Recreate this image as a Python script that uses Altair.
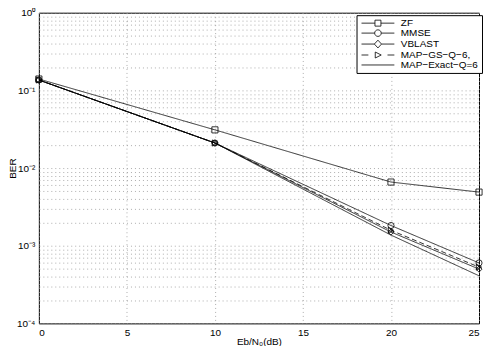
import altair as alt
import pandas as pd

# ---- data ----
snr = [0, 10, 20, 25]
series_names = ["ZF", "MMSE", "VBLAST", "MAP\u2212GS\u2212Q\u22126,", "MAP\u2212Exact\u2212Q=6"]
ber_zf = [0.14, 0.031, 0.0066, 0.0049]
ber_mmse = [0.136, 0.021, 0.00182, 0.0006]
ber_vblast = [0.136, 0.021, 0.0015, 0.0005]
ber_mapgs = [0.136, 0.021, 0.00158, 0.00053]
ber_exact = [0.136, 0.021, 0.00137, 0.00041]

x_ticks = [0, 5, 10, 15, 20, 25]
y_ticks = [m * 10.0 ** k for k in range(-4, 0) for m in range(1, 10)] + [1.0]

all_vals = [ber_zf, ber_mmse, ber_vblast, ber_mapgs, ber_exact]
rows = []
for name, vals in zip(series_names, all_vals):
    for xv, yv in zip(snr, vals):
        rows.append({"snr": xv, "ber": yv, "series": name})
df = pd.DataFrame(rows)
legend_df = pd.DataFrame({"series": series_names})

FONT = "Liberation Sans"

x_enc = alt.X("snr:Q", scale=alt.Scale(domain=[0, 25], nice=False),
              axis=alt.Axis(values=x_ticks, title="Eb/N\u2080(dB)", format="d",
                            titleY=18, titleBaseline="middle"))
y_enc = alt.Y("ber:Q", scale=alt.Scale(type="log", domain=[1e-4, 1], nice=False),
              axis=alt.Axis(values=y_ticks, title="BER",
                            labelExpr="abs(datum.value-1)<1e-9 ? '10\u2070' : abs(datum.value-0.1)<1e-12 ? '10\u207b\u00b9' : abs(datum.value-0.01)<1e-12 ? '10\u207b\u00b2' : abs(datum.value-0.001)<1e-12 ? '10\u207b\u00b3' : abs(datum.value-0.0001)<1e-12 ? '10\u207b\u2074' : ''"))

dash_range = [[1, 0], [1, 0], [1, 0], [5, 3], [1, 0]]
lines = alt.Chart(df).mark_line(color="black", strokeWidth=0.8).encode(
    x=x_enc, y=y_enc,
    detail="series:N",
    strokeDash=alt.StrokeDash("series:N", scale=alt.Scale(domain=series_names, range=dash_range), legend=None),
)

marker_names = series_names[:4]
points = alt.Chart(df).transform_filter(
    alt.FieldOneOfPredicate(field="series", oneOf=marker_names)
).mark_point(color="black", filled=False, strokeWidth=0.8, size=38, opacity=1).encode(
    x="snr:Q", y="ber:Q",
    shape=alt.Shape("series:N", scale=alt.Scale(domain=marker_names,
                    range=["square", "circle", "diamond", "triangle-right"]), legend=None),
)

legend_paths = [
    "M-1,0H3.5M5.5,0H10M3.5,-1H5.5V1H3.5Z",
    "M-1,0H3.4M5.6,0H10M5.6,0A1.1,1.1,0,1,1,3.4,0A1.1,1.1,0,1,1,5.6,0",
    "M-1,0H3.3M5.7,0H10M4.5,-1.3L5.7,0L4.5,1.3L3.3,0Z",
    "M-1,0H1.3M3.6,-1L5.6,0L3.6,1ZM7.7,0H10",
    "M-1,0H10",
]
legend_layer = alt.Chart(legend_df).transform_filter("false").mark_point(
    color="black", filled=False, strokeWidth=0.8
).encode(
    shape=alt.Shape("series:N", scale=alt.Scale(domain=series_names, range=legend_paths),
                    legend=alt.Legend(title=None, orient="none", legendX=319, legendY=2.5,
                                      strokeColor="black", fillColor="white", padding=3,
                                      symbolSize=36, symbolStrokeColor="black",
                                      symbolStrokeWidth=0.8, symbolFillColor="transparent",
                                      symbolOpacity=1, labelOffset=31.5, rowPadding=0,
                                      labelFont=FONT, labelFontSize=10, labelColor="black",
                                      cornerRadius=0)),
)

chart = alt.layer(lines, points, legend_layer).resolve_scale(
    shape="independent"
).properties(
    width=442, height=312,
    autosize=alt.AutoSizeParams(type="none"),
    padding={"left": 31, "top": 4, "right": 4, "bottom": 22},
    background="white",
).configure_view(
    stroke="black", strokeWidth=1
).configure_axis(
    grid=True, gridColor="#999999", gridDash=[1, 3], gridWidth=0.8,
    domain=False, ticks=False,
    labelFont=FONT, labelFontSize=10, labelColor="black",
    titleFont=FONT, titleFontSize=10, titleFontWeight="normal", titleColor="black",
).configure_axisX(
    labelPadding=4
).configure_axisY(
    labelPadding=4, titlePadding=-1
)

chart.save("out.html", embed_options={"renderer": "svg", "actions": False})
